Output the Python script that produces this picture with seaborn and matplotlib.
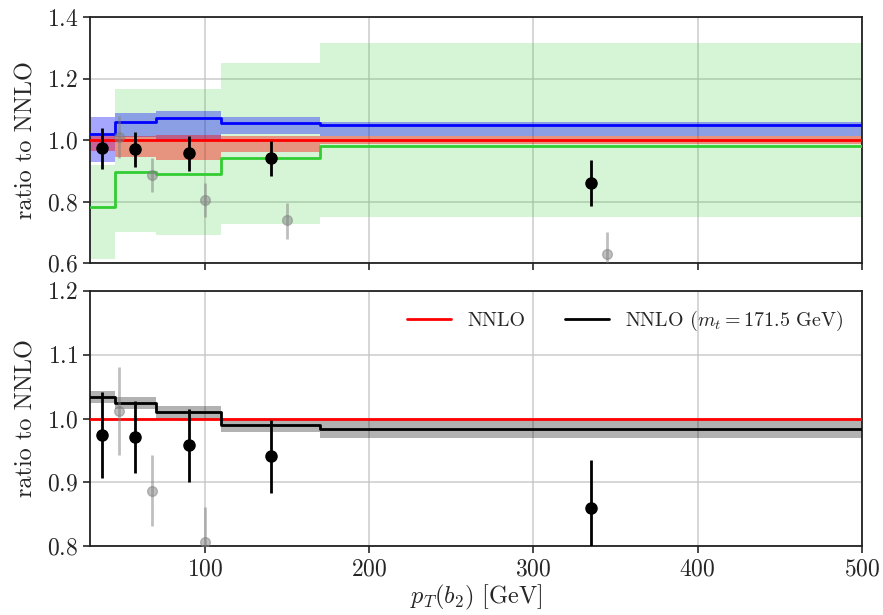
import matplotlib
matplotlib.use("Agg")
import matplotlib.pyplot as plt
import seaborn as sns
import numpy as np

# -------------------------------
# data
# -------------------------------
bin_edges = [30, 45, 70, 110, 170, 500]
bin_centres = [37.5, 57.5, 90, 140, 335]
grey_x = [47.5, 67.5, 100, 150, 345]

# top panel: ratio to NNLO
blue_val = [1.019, 1.060, 1.071, 1.057, 1.049]
blue_lo = [0.928, 1.010, 1.000, 1.020, 1.014]
blue_hi = [1.076, 1.087, 1.096, 1.076, 1.059]

red_val = [1.0, 1.0, 1.0, 1.0, 1.0]
red_lo = [0.965, 0.946, 0.936, 0.963, 0.987]
red_hi = [1.015, 1.014, 1.017, 1.015, 1.013]

green_val = [0.784, 0.896, 0.890, 0.941, 0.981]
green_lo = [0.613, 0.700, 0.692, 0.727, 0.750]
green_hi = [0.920, 1.166, 1.168, 1.250, 1.315]

# data points (black) and shifted points (grey)
data_y = [0.974, 0.971, 0.958, 0.941, 0.860]
data_lo = [0.907, 0.914, 0.900, 0.884, 0.785]
data_hi = [1.041, 1.027, 1.015, 0.998, 0.935]

grey_y = [1.012, 0.887, 0.806, 0.739, 0.631]
grey_lo = [0.943, 0.832, 0.750, 0.680, 0.580]
grey_hi = [1.080, 0.943, 0.862, 0.795, 0.700]

# bottom panel: NNLO with m_t = 171.5 GeV
mt_val = [1.033, 1.024, 1.010, 0.990, 0.983]
mt_lo = [1.025, 1.015, 1.000, 0.979, 0.970]
mt_hi = [1.043, 1.034, 1.019, 0.999, 0.997]

# -------------------------------
# style
# -------------------------------
sns.set_style("ticks")
plt.rcParams["font.family"] = "serif"
plt.rcParams["font.serif"] = ["cmr10", "DejaVu Serif"]
plt.rcParams["mathtext.fontset"] = "cm"
plt.rcParams["axes.unicode_minus"] = False
plt.rcParams["axes.formatter.use_mathtext"] = True
plt.rcParams["xtick.labelsize"] = 17
plt.rcParams["ytick.labelsize"] = 17
plt.rcParams["axes.labelsize"] = 17.5
plt.rcParams["axes.edgecolor"] = "#222222"


def ext(v):
    # repeat the last value so the post-step covers the final bin
    return list(v) + [v[-1]]


def step_line(ax, vals, color, lw=2, label=None):
    sns.lineplot(x=bin_edges, y=ext(vals), ax=ax, color=color, lw=lw,
                 drawstyle="steps-post", estimator=None, sort=False,
                 label=label, zorder=4)


def step_band(ax, lo, hi, color, alpha):
    ax.fill_between(bin_edges, ext(lo), ext(hi), step="post",
                    color=color, alpha=alpha, lw=0, zorder=2)


def points(ax):
    ax.errorbar(grey_x, grey_y,
                yerr=[np.subtract(grey_y, grey_lo), np.subtract(grey_hi, grey_y)],
                fmt="o", color="gray", alpha=0.5, ms=7, elinewidth=2, zorder=5)
    ax.errorbar(bin_centres, data_y,
                yerr=[np.subtract(data_y, data_lo), np.subtract(data_hi, data_y)],
                fmt="o", color="black", ms=8, elinewidth=2, zorder=6)


fig = plt.figure(figsize=(8.83, 6.15), dpi=100)
ax1 = fig.add_axes([0.102, 0.572, 0.874, 0.4])
ax2 = fig.add_axes([0.102, 0.112, 0.874, 0.415], sharex=ax1)

# -------------------------------
# top panel
# -------------------------------
step_band(ax1, green_lo, green_hi, "limegreen", 0.2)
step_band(ax1, blue_lo, blue_hi, "blue", 0.35)
step_band(ax1, red_lo, red_hi, "red", 0.4)
step_line(ax1, green_val, "limegreen")
step_line(ax1, blue_val, "blue")
step_line(ax1, red_val, "red")
points(ax1)
ax1.set_ylim(0.6, 1.4)
ax1.set_yticks([0.6, 0.8, 1.0, 1.2, 1.4])
ax1.set_ylabel("ratio to NNLO")
ax1.tick_params(axis="x", labelbottom=False)

# -------------------------------
# bottom panel
# -------------------------------
step_band(ax2, mt_lo, mt_hi, "black", 0.3)
step_line(ax2, red_val, "red", label="NNLO")
step_line(ax2, mt_val, "black", label=r"NNLO $(m_t = 171.5$ GeV$)$")
points(ax2)
ax2.set_ylim(0.8, 1.2)
ax2.set_yticks([0.8, 0.9, 1.0, 1.1, 1.2])
ax2.set_ylabel("ratio to NNLO")
ax2.set_xlabel(r"$p_T(b_2)$ [GeV]", labelpad=2)
ax2.legend(loc="upper right", ncol=2, frameon=False, fontsize=14.4,
           handlelength=2.2, columnspacing=2.0, bbox_to_anchor=(1.0, 1.0))

for ax in (ax1, ax2):
    ax.set_xlim(30, 500)
    ax.set_xticks([100, 200, 300, 400, 500])
    ax.grid(True, color="#c4c4c4", lw=1.2, alpha=0.8, zorder=0)
    ax.set_axisbelow(True)
    ax.tick_params(direction="out", length=5, width=1.2)
    for s in ax.spines.values():
        s.set_visible(True)
        s.set_linewidth(1.3)

ax1.yaxis.set_label_coords(-0.068, 0.5)
ax2.yaxis.set_label_coords(-0.068, 0.5)

fig.savefig("out.png", dpi=100)
